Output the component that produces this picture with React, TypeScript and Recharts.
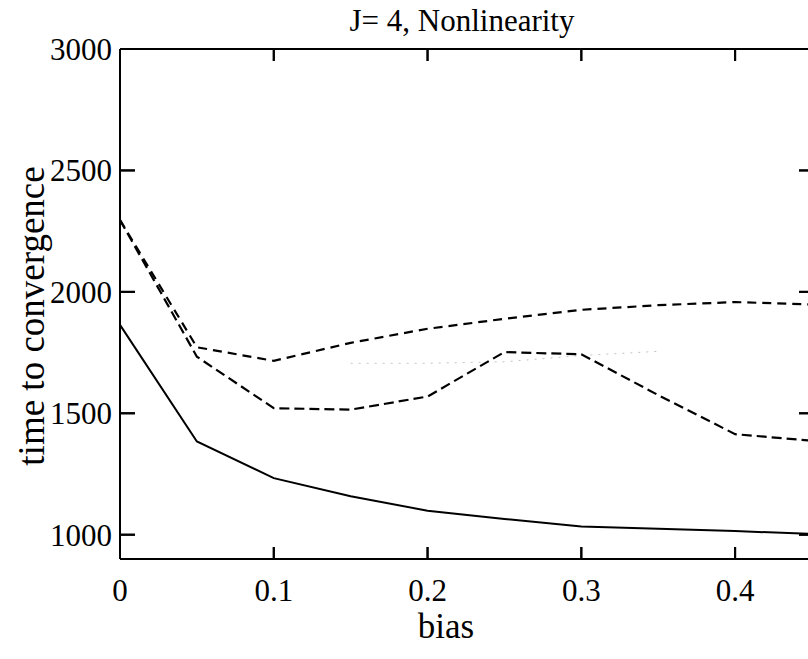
import React from 'react'
import { LineChart, Line, XAxis, YAxis } from 'recharts'

// bias values along the x axis
const bias = [0, 0.05, 0.1, 0.15, 0.2, 0.25, 0.3, 0.35, 0.4, 0.45]
// time to convergence
const solidSeries = [1864, 1384, 1233, 1158, 1099, 1065, 1034, 1025, 1015, 1003]
const upperDashed = [2296, 1772, 1716, 1790, 1848, 1889, 1926, 1945, 1958, 1948]
const lowerDashed = [2296, 1733, 1521, 1515, 1569, 1752, 1743, 1575, 1414, 1387]
const faintDotted = [null, null, null, 1706, 1706, 1712, 1738, 1755, null, null]

const xTicks = [0, 0.1, 0.2, 0.3, 0.4]
const yTicks = [1000, 1500, 2000, 2500, 3000]

const X_DOMAIN = [0, 0.45]
const Y_DOMAIN = [900, 3000]

const data = bias.map((b, i) => ({
  bias: b,
  solid: solidSeries[i],
  upper: upperDashed[i],
  lower: lowerDashed[i],
  faint: faintDotted[i],
}))

const W = 900
const H = 659
const PLOT_LEFT = 120
const PLOT_RIGHT = 812
const PLOT_TOP = 49
const PLOT_BOTTOM = 559
const FONT = '"Liberation Serif", "Times New Roman", serif'
const INK = '#000'

// same linear mapping as the chart axes, only used for the frame's inward tick marks
const px = (t: number) => PLOT_LEFT + ((t - X_DOMAIN[0]) / (X_DOMAIN[1] - X_DOMAIN[0])) * (PLOT_RIGHT - PLOT_LEFT)
const py = (v: number) => PLOT_BOTTOM - ((v - Y_DOMAIN[0]) / (Y_DOMAIN[1] - Y_DOMAIN[0])) * (PLOT_BOTTOM - PLOT_TOP)

function BottomTick(props: any) {
  const { x, payload } = props
  const v = payload.value
  return (
    <g>
      <rect x={x - 1} y={PLOT_BOTTOM - 12} width={2} height={12} fill={INK} />
      <rect x={x - 1} y={PLOT_TOP} width={2} height={12} fill={INK} />
      <text x={x} y={PLOT_BOTTOM + 42} textAnchor="middle" fontFamily={FONT} fontSize={31} fill={INK}>
        {v === 0 ? '0' : String(v)}
      </text>
    </g>
  )
}

function LeftTick(props: any) {
  const { y, payload } = props
  return (
    <g>
      <rect x={PLOT_LEFT} y={y - 1} width={15} height={2} fill={INK} />
      <rect x={PLOT_RIGHT - 13} y={y - 1} width={13} height={2} fill={INK} />
      <text x={PLOT_LEFT - 8} y={y + 11} textAnchor="end" fontFamily={FONT} fontSize={31} fill={INK}>
        {payload.value}
      </text>
    </g>
  )
}

function FrameTicks() {
  return (
    <svg width={W} height={H} style={{ position: 'absolute', left: 0, top: 0, pointerEvents: 'none' }}>
      <rect x={PLOT_LEFT} y={PLOT_TOP - 1} width={PLOT_RIGHT - PLOT_LEFT} height={2} fill={INK} />
      <rect x={PLOT_RIGHT - 1} y={PLOT_TOP} width={2} height={PLOT_BOTTOM - PLOT_TOP} fill={INK} />
      {xTicks.map((t) => (
        <g key={`xt-${t}`}>
          <rect x={px(t) - 1} y={PLOT_BOTTOM - 12} width={2} height={12} fill={INK} />
          <rect x={px(t) - 1} y={PLOT_TOP} width={2} height={12} fill={INK} />
        </g>
      ))}
      {yTicks.map((t) => (
        <g key={`yt-${t}`}>
          <rect x={PLOT_LEFT} y={py(t) - 1} width={15} height={2} fill={INK} />
          <rect x={PLOT_RIGHT - 13} y={py(t) - 1} width={13} height={2} fill={INK} />
        </g>
      ))}
    </svg>
  )
}

export default function App() {
  return (
    <div style={{ position: 'fixed', left: 0, top: 0, width: 808, height: 659, overflow: 'hidden', background: '#fff' }}>
      <div
        style={{
          position: 'absolute',
          left: 0,
          width: 924,
          top: 3,
          textAlign: 'center',
          fontFamily: FONT,
          fontSize: 31,
          color: INK,
        }}
      >
        J= 4, Nonlinearity
      </div>
      <LineChart
        width={W}
        height={H}
        data={data}
        margin={{ top: PLOT_TOP, right: W - PLOT_RIGHT, bottom: 0, left: 0 }}
      >
        <XAxis
          dataKey="bias"
          type="number"
          domain={X_DOMAIN}
          ticks={xTicks}
          tick={<BottomTick />}
          tickLine={false}
          axisLine={{ stroke: INK, strokeWidth: 2 }}
          height={H - PLOT_BOTTOM}
          label={{
            content: () => (
              <text x={446} y={638} textAnchor="middle" fontFamily={FONT} fontSize={35} fill={INK}>
                bias
              </text>
            ),
          }}
        />
        <YAxis
          type="number"
          domain={Y_DOMAIN}
          ticks={yTicks}
          tick={<LeftTick />}
          tickLine={false}
          axisLine={{ stroke: INK, strokeWidth: 2 }}
          width={PLOT_LEFT}
          label={{
            content: () => (
              <text
                x={44}
                y={316}
                transform="rotate(-90 44 316)"
                textAnchor="middle"
                fontFamily={FONT}
                fontSize={37}
                fill={INK}
              >
                time to convergence
              </text>
            ),
          }}
        />
        <Line
          dataKey="faint"
          stroke="#c4c4c4"
          strokeWidth={1}
          strokeDasharray="2 6"
          dot={false}
          connectNulls={false}
          isAnimationActive={false}
        />
        <Line
          dataKey="upper"
          stroke={INK}
          strokeWidth={2.2}
          strokeDasharray="9 6"
          dot={false}
          isAnimationActive={false}
        />
        <Line
          dataKey="lower"
          stroke={INK}
          strokeWidth={2.2}
          strokeDasharray="10 5"
          dot={false}
          isAnimationActive={false}
        />
        <Line dataKey="solid" stroke={INK} strokeWidth={2} dot={false} isAnimationActive={false} />
      </LineChart>
      <FrameTicks />
    </div>
  )
}
